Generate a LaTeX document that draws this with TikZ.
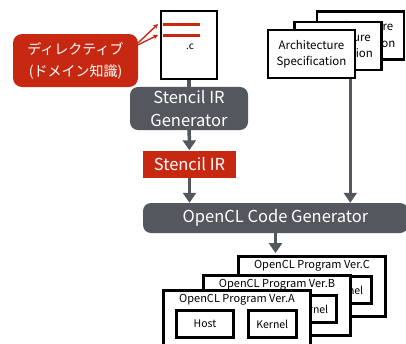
\documentclass[tikz,border=0pt]{standalone}
\usepackage{fontspec}
\setmainfont{Noto Sans CJK JP}
\usetikzlibrary{positioning, arrows.meta}
\definecolor{dirred}{RGB}{199,40,18}
\definecolor{gengray}{RGB}{84,88,94}

\begin{document}
\begin{tikzpicture}
	[x=1pt, y=-1pt,
	 gen/.style={fill=gengray, text=white, rounded corners=8pt, align=center, font=\fontsize{16.5}{23}\selectfont},
	 doc/.style={draw, line width=2.6pt, fill=white, align=center, font=\fontsize{11.5}{16.5}\selectfont},
	 prog/.style={draw, line width=2.8pt, fill=white, minimum width=147pt, minimum height=60pt},
	 part/.style={draw, line width=2.8pt, fill=white, minimum height=27pt, font=\fontsize{10.5}{12}\selectfont},
	 flow/.style={-{Triangle[length=10pt,width=13pt]}, gengray, line width=3.5pt}]
   \useasboundingbox (0,0) rectangle (406,343);

   % source file with directives
   \node (src) [doc, minimum width=56pt, minimum height=68pt] at (189,45) {};
   \node (dot_c) at (190,47) {\fontsize{10}{12}\selectfont .c};
   \coordinate (dirA) at (163,24);
   \coordinate (dirB) at (163,35);
   \draw[dirred, line width=3pt] (dirA) -- ++(37,0);
   \draw[dirred, line width=3pt] (dirB) -- ++(37,0);
   \node (dir) [fill=dirred, text=white, rounded corners=9pt, align=center,
        minimum width=125pt, minimum height=53pt, font=\fontsize{14}{22}\selectfont]
        at (75.5,60.5) {ディレクティブ\\(ドメイン知識)};
   \draw[-{Stealth[length=5pt,width=5pt]}, dirred, line width=1.4pt] ([yshift=-9pt]dir.north east) -- ([xshift=-5pt]dirA);
   \draw[-{Stealth[length=5pt,width=5pt]}, dirred, line width=1.4pt] ([yshift=-11pt]dir.north east) -- ([xshift=-5pt]dirB);

   % architecture specs
   \node (arch_3) [doc, minimum width=87pt, minimum height=48pt] at (360.5,35.5) {Architecture\\Specification};
   \node (arch_2) [doc, minimum width=87pt, minimum height=48pt] at (338,46) {Architecture\\Specification};
   \node (arch_1) [doc, minimum width=87pt, minimum height=48pt] at (311.5,54) {Architecture\\Specification};

   % generators
   \node (sgen) [gen, minimum width=118pt, minimum height=43pt] at (189,108.5) {Stencil IR\\Generator};
   \node (sir) [fill=dirred, text=white, minimum width=93pt, minimum height=27pt,
        font=\fontsize{16.5}{20}\selectfont] at (189.5,164) {Stencil IR};
   \node (ocl) [gen, minimum width=265pt, minimum height=30pt] at (275.5,218) {OpenCL Code Generator};

   % generated programs
   \node (progC) [prog] at (312,286.5) {};
   \node (titleC) [below=1.5pt of progC.north, font=\fontsize{11}{12}\selectfont] {OpenCL Program Ver.C};
   \node (hostC) [part, minimum width=57pt, below right=20pt and 13pt of progC.north west] {Host};
   \node (kernelC) [part, minimum width=48pt, right=12pt of hostC] {Kernel};
   \node (progB) [prog] at (277,305.5) {};
   \node (titleB) [below=1.5pt of progB.north, font=\fontsize{11}{12}\selectfont] {OpenCL Program Ver.B};
   \node (hostB) [part, minimum width=57pt, below right=20pt and 13pt of progB.north west] {Host};
   \node (kernelB) [part, minimum width=48pt, right=12pt of hostB] {Kernel};
   \node (progA) [prog] at (237,320.5) {};
   \node (titleA) [below=1.5pt of progA.north, font=\fontsize{11}{12}\selectfont] {OpenCL Program Ver.A};
   \node (hostA) [part, minimum width=57pt, below right=20pt and 13pt of progA.north west] {Host};
   \node (kernelA) [part, minimum width=48pt, right=12pt of hostA] {Kernel};

   % connectors
   \draw[gengray, line width=3.5pt] (src) -- (sgen);
   \draw[flow] (sgen) -- (sir);
   \draw[flow] (sir) -- (sir |- ocl.north);
   \draw[flow] ([xshift=-6pt]arch_1.south east) -- ([xshift=-6pt]arch_1.south east |- ocl.north);
   \draw[flow] (ocl) -- ([yshift=2pt]ocl.south |- progC.north);
\end{tikzpicture}
\end{document}
